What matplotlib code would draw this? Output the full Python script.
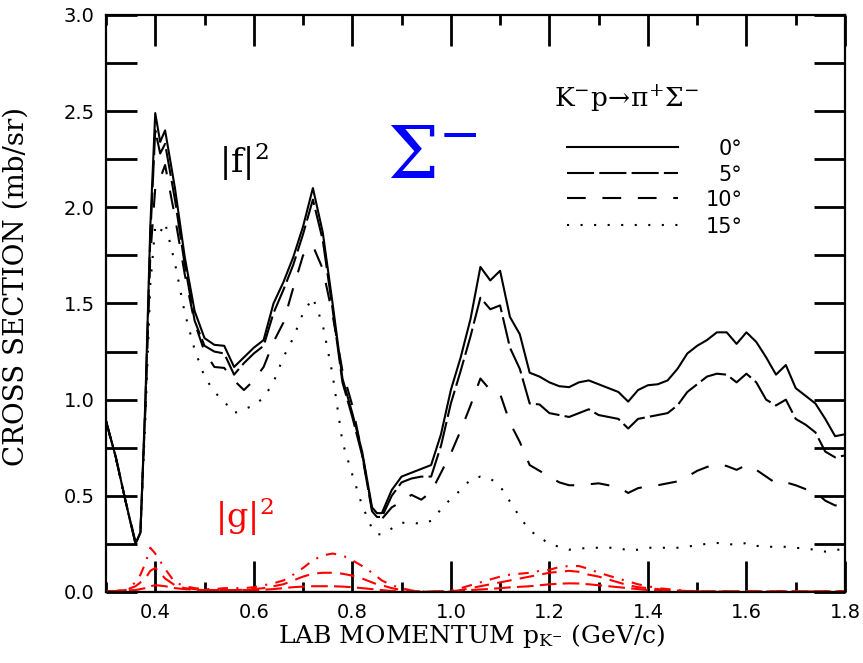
import matplotlib
matplotlib.use("Agg")
import matplotlib.pyplot as plt
from matplotlib.ticker import MultipleLocator

plt.rcParams["mathtext.fontset"] = "dejavuserif"

# lab momentum grid (GeV/c)
p_lab = [0.30, 0.32, 0.34, 0.36, 0.37, 0.38, 0.39, 0.40, 0.41, 0.42,
         0.44, 0.46, 0.48, 0.50, 0.52, 0.54, 0.56, 0.58, 0.60, 0.62,
         0.64, 0.66, 0.68, 0.70, 0.72, 0.74, 0.76, 0.78, 0.80, 0.82,
         0.84, 0.85, 0.86, 0.88, 0.90, 0.92, 0.94, 0.96, 0.98, 1.00,
         1.02, 1.04, 1.06, 1.08, 1.10, 1.12, 1.14, 1.16, 1.18, 1.20,
         1.22, 1.24, 1.26, 1.28, 1.30, 1.32, 1.34, 1.36, 1.38, 1.40,
         1.42, 1.44, 1.46, 1.48, 1.50, 1.52, 1.54, 1.56, 1.58, 1.60,
         1.62, 1.64, 1.66, 1.68, 1.70, 1.72, 1.74, 1.76, 1.78, 1.80]

# |f|^2 (mb/sr) at 0, 5, 10, 15 degrees
f0 = [0.89, 0.70, 0.47, 0.25, 0.31, 1.00, 1.90, 2.49, 2.34, 2.40,
      2.10, 1.74, 1.46, 1.32, 1.285, 1.28, 1.17, 1.22, 1.27, 1.31,
      1.50, 1.61, 1.74, 1.90, 2.10, 1.87, 1.50, 1.11, 0.93, 0.73,
      0.44, 0.41, 0.41, 0.53, 0.60, 0.62, 0.64, 0.66, 0.82, 1.05,
      1.22, 1.42, 1.69, 1.62, 1.67, 1.43, 1.34, 1.14, 1.12, 1.09,
      1.07, 1.065, 1.09, 1.10, 1.08, 1.06, 1.04, 0.99, 1.05, 1.075,
      1.08, 1.10, 1.16, 1.24, 1.28, 1.31, 1.35, 1.35, 1.29, 1.35,
      1.30, 1.22, 1.13, 1.18, 1.06, 1.02, 0.98, 0.90, 0.81, 0.82]
f5 = [0.89, 0.70, 0.47, 0.25, 0.31, 0.98, 1.85, 2.40, 2.28, 2.33,
      2.04, 1.70, 1.41, 1.28, 1.25, 1.24, 1.13, 1.19, 1.24, 1.28,
      1.45, 1.57, 1.70, 1.86, 2.04, 1.83, 1.47, 1.09, 0.91, 0.71,
      0.42, 0.39, 0.39, 0.50, 0.57, 0.59, 0.60, 0.60, 0.76, 0.98,
      1.15, 1.33, 1.53, 1.47, 1.49, 1.27, 1.16, 0.98, 0.975, 0.93,
      0.92, 0.91, 0.93, 0.95, 0.92, 0.91, 0.90, 0.85, 0.90, 0.91,
      0.92, 0.93, 0.97, 1.04, 1.08, 1.12, 1.135, 1.13, 1.09, 1.135,
      1.09, 1.00, 0.97, 1.00, 0.90, 0.87, 0.83, 0.73, 0.70, 0.71]
f10 = [0.89, 0.70, 0.47, 0.26, 0.32, 0.95, 1.75, 2.10, 2.15, 2.22,
       1.95, 1.65, 1.40, 1.25, 1.17, 1.165, 1.10, 1.05, 1.10, 1.17,
       1.30, 1.40, 1.58, 1.75, 1.80, 1.68, 1.44, 1.15, 0.97, 0.72,
       0.43, 0.38, 0.38, 0.44, 0.47, 0.505, 0.48, 0.52, 0.62, 0.72,
       0.84, 0.97, 1.11, 1.05, 1.03, 0.88, 0.78, 0.66, 0.63, 0.60,
       0.57, 0.555, 0.555, 0.56, 0.565, 0.555, 0.545, 0.515, 0.54, 0.55,
       0.555, 0.565, 0.575, 0.60, 0.63, 0.65, 0.665, 0.655, 0.635, 0.66,
       0.635, 0.60, 0.565, 0.57, 0.555, 0.535, 0.52, 0.475, 0.45, 0.455]
f15 = [0.89, 0.69, 0.46, 0.27, 0.33, 0.90, 1.60, 1.90, 1.87, 1.92,
       1.71, 1.45, 1.26, 1.12, 1.04, 0.99, 0.93, 0.95, 0.97, 1.01,
       1.09, 1.22, 1.32, 1.45, 1.53, 1.39, 1.13, 0.78, 0.61, 0.45,
       0.33, 0.30, 0.30, 0.33, 0.36, 0.36, 0.355, 0.37, 0.43, 0.485,
       0.53, 0.585, 0.60, 0.59, 0.55, 0.47, 0.39, 0.32, 0.285, 0.25,
       0.235, 0.22, 0.225, 0.23, 0.23, 0.23, 0.23, 0.215, 0.22, 0.23,
       0.23, 0.23, 0.23, 0.235, 0.245, 0.25, 0.255, 0.25, 0.245, 0.255,
       0.24, 0.235, 0.235, 0.235, 0.23, 0.225, 0.22, 0.21, 0.215, 0.23]

# |g|^2 (mb/sr)
g0 = [0.0] * len(p_lab)
g5 = [0.005, 0.005, 0.008, 0.01, 0.015, 0.02, 0.03, 0.035, 0.033, 0.03,
      0.02, 0.015, 0.012, 0.01, 0.01, 0.01, 0.01, 0.01, 0.01, 0.012,
      0.015, 0.02, 0.025, 0.028, 0.03, 0.03, 0.03, 0.028, 0.025, 0.02,
      0.015, 0.012, 0.01, 0.005, 0.003, 0.002, 0.002, 0.002, 0.002, 0.002,
      0.005, 0.01, 0.013, 0.016, 0.02, 0.024, 0.027, 0.03, 0.035, 0.04,
      0.043, 0.045, 0.044, 0.04, 0.035, 0.03, 0.025, 0.02, 0.015, 0.01,
      0.008, 0.006, 0.005, 0.004, 0.003, 0.003, 0.003, 0.003, 0.003, 0.003,
      0.003, 0.003, 0.003, 0.003, 0.003, 0.003, 0.003, 0.003, 0.003, 0.003]
g10 = [0.005, 0.005, 0.01, 0.03, 0.05, 0.07, 0.11, 0.125, 0.10, 0.07,
       0.035, 0.02, 0.015, 0.01, 0.01, 0.01, 0.01, 0.012, 0.015, 0.02,
       0.03, 0.04, 0.06, 0.08, 0.095, 0.10, 0.10, 0.095, 0.085, 0.07,
       0.05, 0.04, 0.035, 0.02, 0.01, 0.005, 0.002, 0.002, 0.002, 0.003,
       0.01, 0.02, 0.03, 0.04, 0.05, 0.06, 0.07, 0.08, 0.09, 0.10,
       0.105, 0.11, 0.105, 0.09, 0.08, 0.065, 0.05, 0.035, 0.025, 0.02,
       0.015, 0.01, 0.008, 0.005, 0.003, 0.003, 0.003, 0.003, 0.003, 0.003,
       0.003, 0.003, 0.003, 0.003, 0.003, 0.003, 0.003, 0.003, 0.003, 0.003]
g15 = [0.005, 0.005, 0.01, 0.05, 0.09, 0.15, 0.23, 0.20, 0.16, 0.12,
       0.05, 0.03, 0.02, 0.015, 0.015, 0.02, 0.02, 0.02, 0.025, 0.035,
       0.045, 0.06, 0.09, 0.125, 0.165, 0.19, 0.20, 0.19, 0.165, 0.135,
       0.10, 0.08, 0.06, 0.035, 0.02, 0.008, 0.003, 0.002, 0.003, 0.008,
       0.02, 0.035, 0.05, 0.065, 0.08, 0.09, 0.095, 0.10, 0.11, 0.115,
       0.13, 0.135, 0.135, 0.12, 0.10, 0.085, 0.07, 0.055, 0.04, 0.03,
       0.02, 0.015, 0.01, 0.006, 0.004, 0.003, 0.003, 0.003, 0.003, 0.003,
       0.003, 0.003, 0.003, 0.003, 0.003, 0.003, 0.003, 0.003, 0.003, 0.003]

angle_labels = ["0°", "5°", "10°", "15°"]
x_ticks = [0.4, 0.6, 0.8, 1.0, 1.2, 1.4, 1.6, 1.8]
y_ticks = [0.0, 0.5, 1.0, 1.5, 2.0, 2.5, 3.0]

dash_styles = ["-", (0, (13, 2.5)), (0, (9, 8)), (0, (1, 5.5))]
red_styles = ["-", (0, (8, 3)), (0, (7, 4)), (0, (1, 4, 5, 4))]

fig = plt.figure(figsize=(8.63, 6.63), dpi=100)
ax = fig.add_axes([0.1228, 0.1071, 0.8563, 0.8703])

lw = 1.5
for ys, ls in zip([f0, f5, f10, f15], dash_styles):
    ax.plot(p_lab, ys, color="black", lw=lw, linestyle=ls)
for ys, ls in zip([g0, g5, g10, g15], red_styles):
    ax.plot(p_lab, ys, color="red", lw=lw, linestyle=ls)

# legend drawn by hand in axes coordinates
leg_y = [0.771, 0.726, 0.683, 0.636]
for yy, ls, lab in zip(leg_y, dash_styles, angle_labels):
    ax.plot([0.624, 0.774], [yy, yy], transform=ax.transAxes,
            color="black", lw=lw, linestyle=ls)
    ax.text(0.861, yy - 0.004, lab, transform=ax.transAxes, ha="right",
            va="center", fontsize=15, family="DejaVu Sans")
ax.text(0.705, 0.856, r"$\mathrm{K^{-}p\!\rightarrow\!\pi^{+}\Sigma^{-}}$",
        transform=ax.transAxes, ha="center", va="center", fontsize=19)

ax.text(0.187, 0.745, r"$|\mathrm{f}|^{2}$", transform=ax.transAxes,
        ha="center", va="center", fontsize=24)
ax.text(0.187, 0.130, r"$|\mathrm{g}|^{2}$", transform=ax.transAxes,
        ha="center", va="center", fontsize=24, color="red")
ax.text(0.442, 0.752, r"$\Sigma^{-}$", transform=ax.transAxes,
        ha="center", va="center", fontsize=52, color="blue")

ax.set_xlim(0.3, 1.8)
ax.set_ylim(0.0, 3.0)
ax.xaxis.set_minor_locator(MultipleLocator(0.1))
ax.yaxis.set_minor_locator(MultipleLocator(0.25))
ax.set_xticks(x_ticks)
ax.set_xticklabels([f"{v:.1f}" for v in x_ticks])
ax.set_yticks(y_ticks)
ax.set_yticklabels([f"{v:.1f}" for v in y_ticks])

# inward ticks on all four sides
ax.tick_params(axis="both", which="both", direction="in", colors="black",
               top=True, bottom=True, left=True, right=True,
               labelsize=14, pad=8)
ax.tick_params(axis="x", which="major", length=22, width=2.0)
ax.tick_params(axis="x", which="minor", length=7, width=2.0)
ax.tick_params(axis="y", which="both", length=22, width=2.0)

for sp in ax.spines.values():
    sp.set_linewidth(1.6)

ax.set_xlabel(r"LAB MOMENTUM $\mathrm{p_{K^{-}}}$ (GeV/c)", family="DejaVu Serif",
              fontsize=18)
ax.set_ylabel("CROSS SECTION (mb/sr)", family="DejaVu Serif", fontsize=20)
ax.xaxis.set_label_coords(0.495, -0.052)
ax.yaxis.set_label_coords(-0.103, 0.53)

fig.savefig("out.png", dpi=100)
